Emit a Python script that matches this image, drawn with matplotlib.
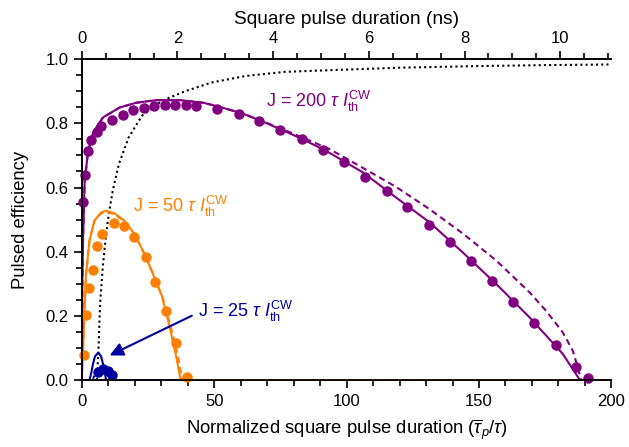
import matplotlib.pyplot as plt
from matplotlib.ticker import MultipleLocator

plt.rcParams['font.family'] = ['Liberation Sans', 'DejaVu Sans']
plt.rcParams['mathtext.fontset'] = 'custom'
plt.rcParams['mathtext.rm'] = 'Liberation Sans'
plt.rcParams['mathtext.it'] = 'Liberation Sans:italic'

purple = '#800080'
orange = '#ff8000'
blue = '#0000a0'

# J = 200: model (solid), model variant (dashed), measurement (dots)
x200_solid = [0, 0.2, 0.5, 1.1, 2.4, 4.3, 8, 14.3, 20.6, 28.2, 37, 45.8, 52.1, 60.9, 68.4, 76,
              83.5, 92.3, 106.2, 118.7, 131.3, 143.9, 156.5, 169, 181.6, 188.2, 200]
y200_solid = [0, 0.30, 0.445, 0.62, 0.714, 0.771, 0.818, 0.849, 0.864, 0.872, 0.872, 0.864, 0.851,
              0.83, 0.805, 0.778, 0.75, 0.714, 0.647, 0.569, 0.492, 0.398, 0.3, 0.197, 0.083, 0, 0]
x200_dash = [0, 0.2, 0.5, 1.1, 2.4, 4.3, 8, 14.3, 20.6, 28.2, 37, 45.8, 52.1, 60.9, 68.4, 76,
             83.5, 93.5, 106.2, 118.7, 131.3, 143.9, 156.5, 169.1, 175.3, 181.6, 185.4, 187.3, 188.6, 200]
y200_dash = [0, 0.30, 0.445, 0.62, 0.714, 0.771, 0.818, 0.849, 0.864, 0.872, 0.872, 0.864, 0.851,
             0.83, 0.806, 0.781, 0.755, 0.72, 0.661, 0.602, 0.533, 0.457, 0.373, 0.274, 0.217,
             0.15, 0.093, 0.041, 0, 0]
x200_pts = [0.4, 1.4, 2.3, 3.5, 5.6, 7.3, 11.4, 15.4, 19.3, 23.4, 27.1, 31.3, 35.2, 39.2, 43.2,
            51.2, 59.3, 67, 74.9, 83.1, 91.1, 99.1, 107.1, 115.2, 123, 131.1, 139, 147, 154.9,
            163, 170.9, 179, 186.8, 191]
y200_pts = [0.556, 0.64, 0.714, 0.747, 0.774, 0.79, 0.81, 0.826, 0.84, 0.849, 0.854, 0.856, 0.856,
            0.856, 0.854, 0.845, 0.828, 0.807, 0.78, 0.752, 0.717, 0.678, 0.634, 0.588, 0.538,
            0.485, 0.43, 0.37, 0.31, 0.243, 0.178, 0.109, 0.041, 0.008]

# J = 50
x50_solid = [0, 0.5, 0.9, 1.6, 2.9, 4.8, 7.3, 9.2, 12.3, 16.1, 19.9, 23.7, 27.4, 30.3, 33.2,
             35.5, 37.4, 200]
y50_solid = [0, 0.10, 0.19, 0.33, 0.435, 0.497, 0.523, 0.528, 0.52, 0.497, 0.456, 0.393, 0.321,
             0.262, 0.166, 0.08, 0, 0]
x50_dash = [0, 0.5, 0.9, 1.6, 2.9, 4.8, 7.3, 9.2, 12.3, 16.1, 19.9, 23.7, 27.6, 30.8, 33.8,
            36.2, 38.0, 200]
y50_dash = [0, 0.10, 0.19, 0.33, 0.435, 0.497, 0.52, 0.525, 0.517, 0.495, 0.455, 0.393, 0.32,
            0.25, 0.16, 0.08, 0, 0]
x50_pts = [0.75, 1.6, 2.9, 4.1, 5.7, 7.5, 12, 15.8, 19.9, 24.1, 27.8, 31.7, 35.7, 39.7]
y50_pts = [0.08, 0.204, 0.288, 0.342, 0.418, 0.456, 0.489, 0.481, 0.445, 0.385, 0.307, 0.217,
           0.116, 0.012]

# J = 25
x25_solid = [0, 2.9, 3.5, 4.2, 5.0, 6.2, 7.3, 8.2, 8.8, 9.2, 200]
y25_solid = [0, 0, 0.02, 0.05, 0.075, 0.086, 0.075, 0.045, 0.02, 0, 0]
x25_dash = [0, 4.0, 5.0, 6.5, 8.0, 9.5, 11.0, 200]
y25_dash = [0, 0, 0.02, 0.034, 0.035, 0.02, 0, 0]
x25_pts = [6.0, 7.9, 9.8, 11.4]
y25_pts = [0.026, 0.034, 0.029, 0.016]

# CW reference efficiency (dotted black)
x_cw = [0, 5.7, 6.3, 6.7, 7.0, 7.9, 9.2, 10.4, 11.7, 14, 17.7, 22.7, 30.3, 39.1, 49.1, 61.7,
        76.7, 93, 120, 150, 175, 200]
y_cw = [0, 0, 0.093, 0.19, 0.248, 0.35, 0.456, 0.528, 0.59, 0.673, 0.756, 0.823, 0.87, 0.90,
        0.927, 0.947, 0.96, 0.965, 0.973, 0.978, 0.981, 0.983]

tau_ns = 0.05535  # ns per normalized unit

fig = plt.figure(figsize=(6.29, 4.47), dpi=100)
ax = fig.add_axes([0.130, 0.149, 0.842, 0.719])

ax.plot(x_cw, y_cw, color='black', lw=1.5, ls=(0, (1, 1.5)), zorder=2)

ax.plot(x25_solid, y25_solid, color=blue, lw=1.5, zorder=3)
ax.plot(x25_dash, y25_dash, color=blue, lw=1.5, ls=(0, (1.5, 1.5)), zorder=3)
ax.plot(x50_solid, y50_solid, color=orange, lw=1.5, zorder=3)
ax.plot(x50_dash, y50_dash, color=orange, lw=1.5, ls=(0, (3, 2)), zorder=3)
ax.plot(x200_solid, y200_solid, color=purple, lw=1.5, zorder=3)
ax.plot(x200_dash, y200_dash, color=purple, lw=1.5, ls=(0, (3, 2)), zorder=3)

ax.plot(x200_pts, y200_pts, 'o', color=purple, ms=6.5, zorder=4, clip_on=False)
ax.plot(x50_pts, y50_pts, 'o', color=orange, ms=6.5, zorder=4, clip_on=False)
ax.plot(x25_pts, y25_pts, 'o', color=blue, ms=6.5, zorder=4, clip_on=False)

ax.text(69.5, 0.867, r'J = 200 $\tau$ $I_{\rm th}^{\rm CW}$', color=purple, fontsize=13, va='center')
ax.text(19.3, 0.542, r'J = 50 $\tau$ $I_{\rm th}^{\rm CW}$', color=orange, fontsize=13, va='center')
ax.text(43.8, 0.214, r'J = 25 $\tau$ $I_{\rm th}^{\rm CW}$', color=blue, fontsize=13, va='center')
ax.annotate('', xy=(9.6, 0.074), xytext=(42.5, 0.205),
            arrowprops=dict(arrowstyle='-|>', color=blue, lw=1.5, mutation_scale=20))

ax.set_xlim(0, 200)
ax.set_ylim(0, 1.0)
ax.xaxis.set_major_locator(MultipleLocator(50))
ax.xaxis.set_minor_locator(MultipleLocator(10))
ax.yaxis.set_major_locator(MultipleLocator(0.2))
ax.yaxis.set_minor_locator(MultipleLocator(0.05))
ax.yaxis.set_major_formatter(plt.FormatStrFormatter('%.1f'))
ax.spines['right'].set_visible(False)
ax.tick_params(which='both', direction='out', labelsize=12, width=1.2)
ax.tick_params(which='major', length=6)
ax.tick_params(which='minor', length=4)
ax.set_xlabel(r'Normalized square pulse duration ($\overline{\tau}_p/\tau$)', fontsize=13.3, labelpad=6)
ax.set_ylabel('Pulsed efficiency', fontsize=13.3, labelpad=12)

top = ax.twiny()
top.set_xlim(0, 200 * tau_ns)
top.xaxis.set_major_locator(MultipleLocator(2))
top.xaxis.set_minor_locator(MultipleLocator(0.5))
top.spines['right'].set_visible(False)
top.tick_params(which='both', direction='out', labelsize=12, width=1.2)
top.tick_params(which='major', length=6)
top.tick_params(which='minor', length=4)
top.set_xlabel('Square pulse duration (ns)', fontsize=13.8, labelpad=5)

for a in (ax, top):
    for s in a.spines.values():
        s.set_linewidth(1.2)

fig.savefig('out.png', dpi=100)
